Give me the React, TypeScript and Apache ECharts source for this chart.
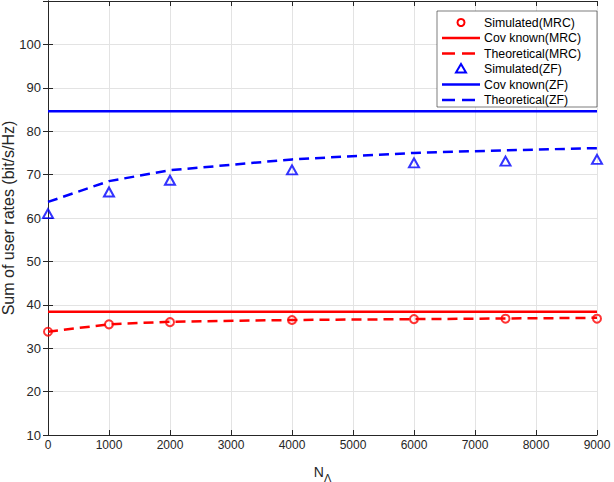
import React, { useEffect, useRef } from "react";
import * as echarts from "echarts";

const simX = [0, 1000, 2000, 4000, 6000, 7500, 9000];
const mrcSim = [33.8, 35.5, 36.0, 36.5, 36.7, 36.8, 36.8];
const mrcTheo = [33.8, 35.5, 36.1, 36.5, 36.7, 36.85, 37.0];
const zfSim = [61.0, 66.0, 68.7, 71.1, 72.7, 73.1, 73.5];
const zfTheo = [63.7, 68.5, 71.0, 73.5, 75.0, 75.6, 76.1];
const covX = [0, 9000];
const mrcCov = [38.4, 38.4];
const zfCov = [84.6, 84.6];
const legendNames = [
  "Simulated(MRC)",
  "Cov known(MRC)",
  "Theoretical(MRC)",
  "Simulated(ZF)",
  "Cov known(ZF)",
  "Theoretical(ZF)",
];

const RED = "#ff0000";
const BLUE = "#0000ff";
const AX = "#262626";
const FONT = "'Liberation Sans', Arial, sans-serif";

const pairs = (xs: number[], ys: number[]) => xs.map((x, i) => [x, ys[i]]);

export default function App() {
  const ref = useRef<HTMLDivElement>(null);
  useEffect(() => {
    if (!ref.current) return;
    const chart = echarts.init(ref.current, undefined, { renderer: "svg" });
    const axisCommon = {
      axisLine: { show: true, lineStyle: { color: AX, width: 1 } },
      axisTick: { show: true, inside: true, length: 5, lineStyle: { color: AX } },
    };
    const lgX0 = 437, lgY0 = 11, lgW = 160, lgH = 96;
    const rowY = (i: number) => 22.5 + i * 15.5;
    const lg: any[] = [
      { type: "rect", shape: { x: lgX0, y: lgY0, width: lgW, height: lgH }, style: { fill: "#fff", stroke: AX, lineWidth: 0.6 }, z: 100 },
    ];
    const colors = [RED, RED, RED, BLUE, BLUE, BLUE];
    legendNames.forEach((n, i) => {
      const y = rowY(i);
      const c = colors[i];
      const kind = i % 3;
      if (kind === 0) {
        if (i === 0) {
          lg.push({ type: "circle", shape: { cx: 461, cy: y, r: 3.5 }, style: { fill: "none", stroke: c, lineWidth: 2 }, z: 101 });
        } else {
          lg.push({ type: "polygon", shape: { points: [[461, y - 5], [466, y + 3.5], [456, y + 3.5]] }, style: { fill: "none", stroke: c, lineWidth: 2 }, z: 101 });
        }
      } else {
        lg.push({
          type: "line",
          shape: { x1: 442, y1: y, x2: 480, y2: y },
          style: { stroke: c, lineWidth: 2.5, lineDash: kind === 2 ? [13, 7] : null },
          z: 101,
        });
      }
      lg.push({
        type: "text",
        x: 484,
        y: y,
        style: { text: n, fill: "#000", font: `12.3px ${FONT}`, verticalAlign: "middle", align: "left" },
        z: 101,
      });
    });

    chart.setOption({
      animation: false,
      backgroundColor: "#fff",
      textStyle: { fontFamily: FONT },
      grid: { left: 48, right: 17, top: 1, bottom: 47, containLabel: false, outerBoundsMode: "none" },
      xAxis: [
        {
          type: "value",
          min: 0,
          max: 9000,
          interval: 1000,
          ...axisCommon,
          axisLabel: { color: AX, fontSize: 12, margin: 4, fontFamily: FONT, formatter: (v: number) => String(v) },
          splitLine: { show: true, lineStyle: { color: "#e3e3e3", width: 1 } },
          name: "{n|N}{s|Λ}",
          nameLocation: "middle",
          nameGap: 26,
          nameMoveOverlap: false,
          nameTextStyle: {
            rich: {
              n: { fontSize: 14, color: AX, fontFamily: FONT },
              s: { fontSize: 11, color: AX, fontFamily: FONT, padding: [11, 0, 0, 0] },
            },
          },
        },
        {
          type: "value",
          position: "top",
          min: 0,
          max: 9000,
          interval: 1000,
          ...axisCommon,
          axisLabel: { show: false },
          splitLine: { show: false },
        },
      ],
      yAxis: [
        {
          type: "value",
          min: 10,
          max: 110,
          interval: 10,
          ...axisCommon,
          axisLabel: {
            color: AX,
            fontSize: 13,
            margin: 7,
            fontFamily: FONT,
            formatter: (v: number) => (v === 110 ? "" : String(v)),
          },
          splitLine: { show: true, lineStyle: { color: "#e3e3e3", width: 1 } },
          name: "Sum of user rates (bit/s/Hz)",
          nameLocation: "middle",
          nameGap: 32,
          nameMoveOverlap: false,
          nameTextStyle: { color: AX, fontSize: 16, fontFamily: FONT },
        },
        {
          type: "value",
          position: "right",
          min: 10,
          max: 110,
          interval: 10,
          ...axisCommon,
          axisLabel: { show: false },
          splitLine: { show: false },
        },
      ],
      series: [
        {
          name: legendNames[0],
          type: "scatter",
          data: pairs(simX, mrcSim),
          symbol: "circle",
          symbolSize: 8,
          itemStyle: { color: "rgba(0,0,0,0)", borderColor: RED, borderWidth: 2 },
          z: 2,
        },
        {
          name: legendNames[1],
          type: "line",
          data: pairs(covX, mrcCov),
          showSymbol: false,
          lineStyle: { color: RED, width: 2.5 },
          z: 3,
        },
        {
          name: legendNames[2],
          type: "line",
          data: pairs(simX, mrcTheo),
          showSymbol: false,
          lineStyle: { color: RED, width: 2.5, type: [10, 6] },
          z: 4,
        },
        {
          name: legendNames[3],
          type: "scatter",
          data: pairs(simX, zfSim),
          symbol: "triangle",
          symbolSize: [10, 9],
          itemStyle: { color: "rgba(0,0,0,0)", borderColor: BLUE, borderWidth: 2 },
          z: 5,
        },
        {
          name: legendNames[4],
          type: "line",
          data: pairs(covX, zfCov),
          showSymbol: false,
          lineStyle: { color: BLUE, width: 2.5 },
          z: 6,
        },
        {
          name: legendNames[5],
          type: "line",
          data: pairs(simX, zfTheo),
          showSymbol: false,
          lineStyle: { color: BLUE, width: 2.5, type: [10, 6] },
          z: 7,
        },
      ],
      graphic: lg,
    });
    return () => chart.dispose();
  }, []);
  return (
    <div
      ref={ref}
      style={{ position: "fixed", left: 0, top: 0, width: 614, height: 482, background: "#fff" }}
    />
  );
}
